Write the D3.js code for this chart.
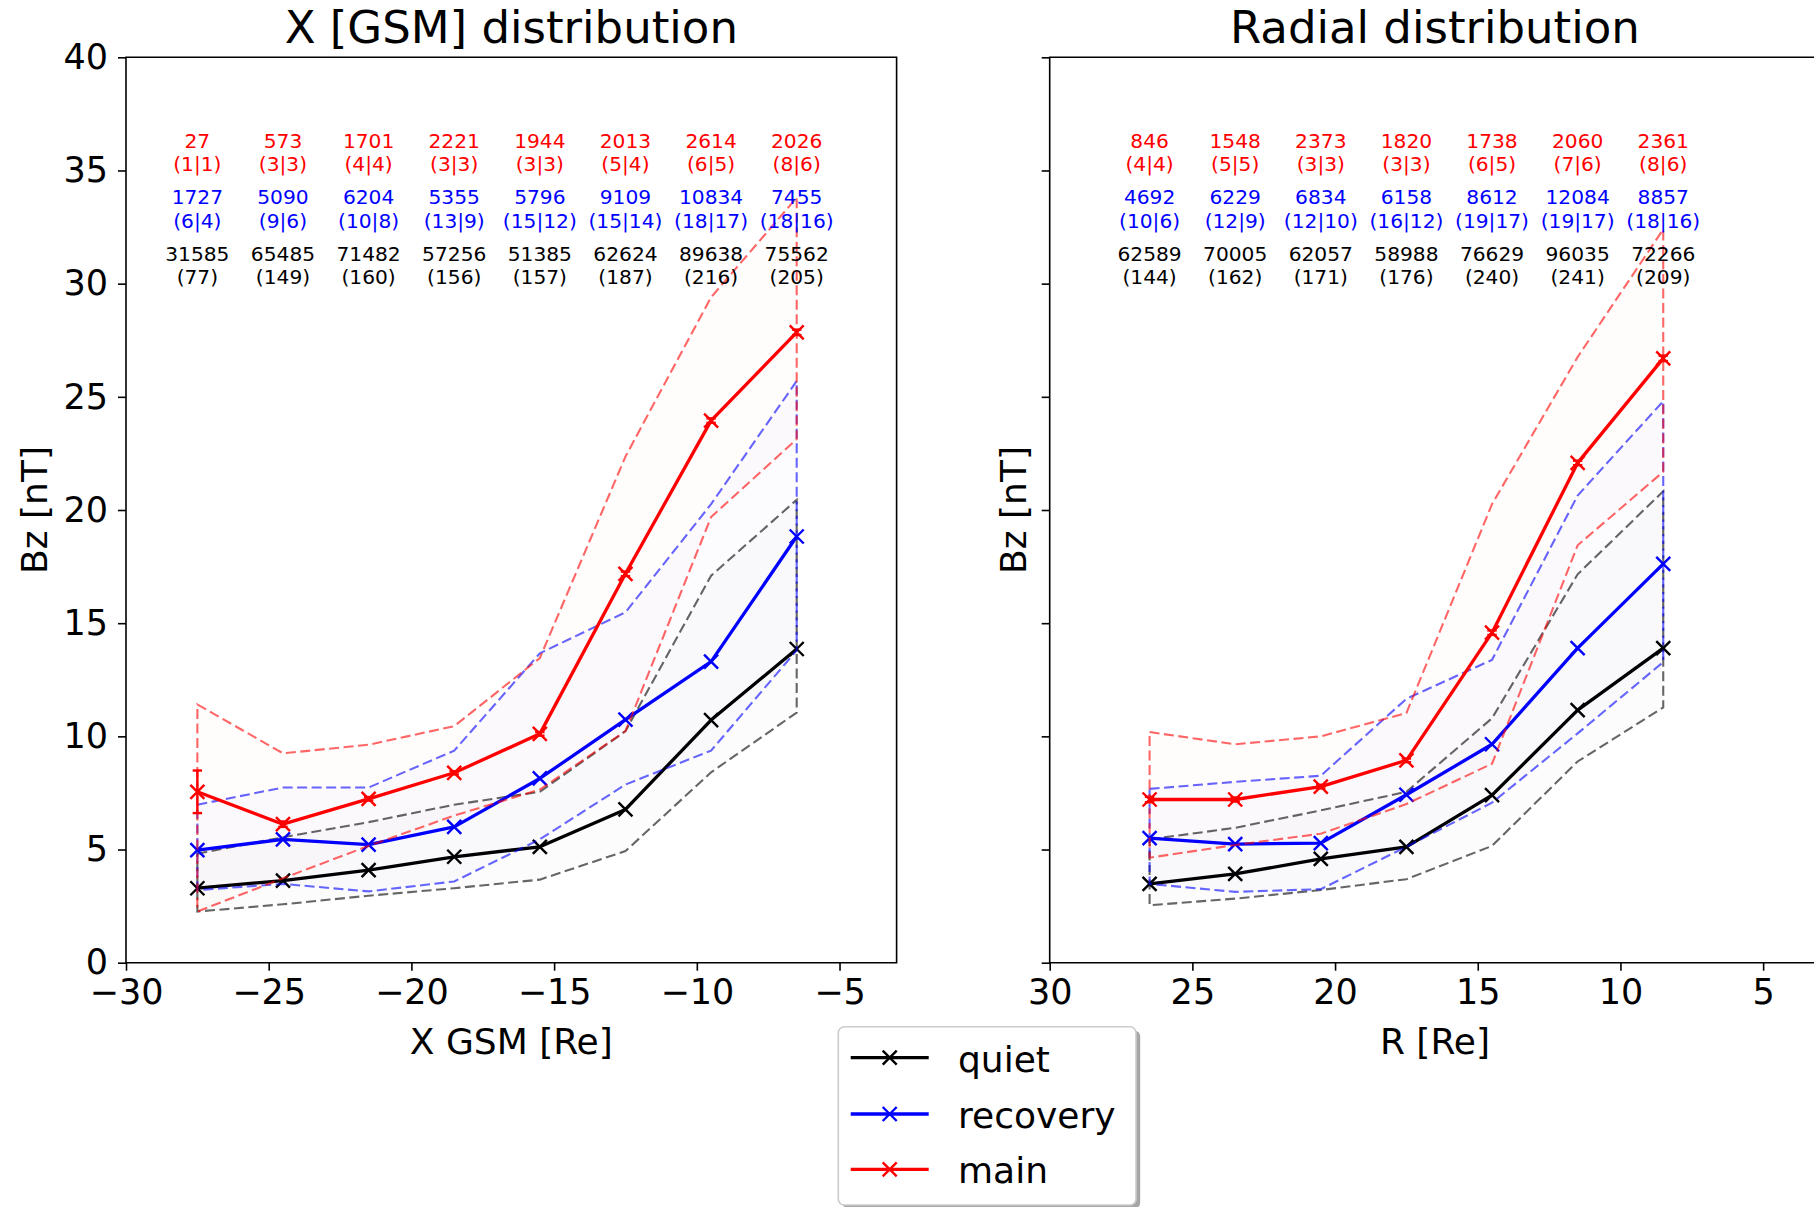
<!DOCTYPE html>
<html>
<head>
<meta charset="utf-8">
<script src="https://cdn.jsdelivr.net/npm/d3@7"></script>
<style>
  html, body { margin: 0; padding: 0; background: #fff; }
  svg { display: block; font-family: "DejaVu Sans", sans-serif; }
</style>
</head>
<body>
<svg id="chart" width="1814" height="1207"></svg>
<script>
// ---- bin centres ----
const xBins = [-27.5, -24.5, -21.5, -18.5, -15.5, -12.5, -9.5, -6.5];
const rBins = [26.5, 23.5, 20.5, 17.5, 14.5, 11.5, 8.5];

// ---- X [GSM] distribution: median Bz and lower/upper quartile band ----
const xQuietMed = [3.29, 3.63, 4.09, 4.68, 5.12, 6.77, 10.72, 13.86];
const xQuietLo  = [2.26, 2.58, 2.96, 3.29, 3.67, 4.93, 8.41, 11.05];
const xQuietHi  = [4.82, 5.54, 6.21, 6.98, 7.55, 10.23, 17.10, 20.45];
const xRecMed   = [4.97, 5.45, 5.22, 6.00, 8.14, 10.74, 13.30, 18.83];
const xRecLo    = [3.21, 3.48, 3.15, 3.59, 5.45, 7.87, 9.37, 13.80];
const xRecHi    = [6.98, 7.74, 7.74, 9.37, 13.67, 15.48, 20.26, 25.70];
const xMainMed  = [7.55, 6.12, 7.24, 8.39, 10.11, 17.18, 23.95, 27.85];
const xMainLo   = [2.26, 3.73, 5.16, 6.50, 7.65, 10.23, 19.69, 23.13];
const xMainHi   = [11.41, 9.25, 9.63, 10.45, 13.46, 22.36, 29.40, 33.80];
const xMainErr  = [0.94, 0.12, 0.08, 0.07, 0.08, 0.10, 0.10, 0.12];

// ---- Radial distribution ----
const rQuietMed = [3.48, 3.92, 4.59, 5.12, 7.40, 11.16, 13.90];
const rQuietLo  = [2.54, 2.83, 3.21, 3.69, 5.16, 8.89, 11.28];
const rQuietHi  = [5.45, 5.96, 6.73, 7.55, 10.80, 17.16, 20.83];
const rRecMed   = [5.50, 5.24, 5.28, 7.42, 9.65, 13.90, 17.62];
const rRecLo    = [3.48, 3.13, 3.25, 5.12, 7.07, 10.13, 13.28];
const rRecHi    = [7.68, 7.99, 8.26, 11.66, 13.38, 20.64, 24.81];
const rMainMed  = [7.21, 7.21, 7.78, 8.94, 14.58, 22.08, 26.70];
const rMainLo   = [4.64, 5.20, 5.70, 7.01, 8.79, 18.44, 21.69];
const rMainHi   = [10.19, 9.65, 10.00, 11.03, 20.26, 26.76, 32.40];
const rMainErr  = [0.12, 0.09, 0.08, 0.08, 0.10, 0.10, 0.12];

// ---- sample counts per bin: points (events|storms) ----
const xMainN   = [27, 573, 1701, 2221, 1944, 2013, 2614, 2026];
const xMainEv  = ["1|1", "3|3", "4|4", "3|3", "3|3", "5|4", "6|5", "8|6"];
const xRecN    = [1727, 5090, 6204, 5355, 5796, 9109, 10834, 7455];
const xRecEv   = ["6|4", "9|6", "10|8", "13|9", "15|12", "15|14", "18|17", "18|16"];
const xQuietN  = [31585, 65485, 71482, 57256, 51385, 62624, 89638, 75562];
const xQuietEv = ["77", "149", "160", "156", "157", "187", "216", "205"];

const rMainN   = [846, 1548, 2373, 1820, 1738, 2060, 2361];
const rMainEv  = ["4|4", "5|5", "3|3", "3|3", "6|5", "7|6", "8|6"];
const rRecN    = [4692, 6229, 6834, 6158, 8612, 12084, 8857];
const rRecEv   = ["10|6", "12|9", "12|10", "16|12", "19|17", "19|17", "18|16"];
const rQuietN  = [62589, 70005, 62057, 58988, 76629, 96035, 72266];
const rQuietEv = ["144", "162", "171", "176", "240", "241", "209"];

// ---- axis ticks and labels ----
const yTicks  = [0, 5, 10, 15, 20, 25, 30, 35, 40];
const xTicksL = [-30, -25, -20, -15, -10, -5];
const xTicksR = [30, 25, 20, 15, 10, 5];
const seriesNames = ["quiet", "recovery", "main"];
const seriesColors = ["#000000", "#0000ff", "#ff0000"];

const svg = d3.select("#chart");

const y = d3.scaleLinear().domain([0, 40]).range([962.7, 57.3]);

function drawPanel(opt) {
  const x = opt.x;
  const g = svg.append("g");
  const [x0, x1] = x.range();

  // series: quiet, recovery, main
  opt.series.forEach((s, i) => {
    const col = seriesColors[i];
    const pts = opt.bins.map((b, k) => ({ b, med: s.med[k], lo: s.lo[k], hi: s.hi[k] }));

    // band outline: upper edge left→right, down the right end, lower edge back, up the left end
    const poly = pts.map(p => [x(p.b), y(p.hi)])
      .concat(pts.slice().reverse().map(p => [x(p.b), y(p.lo)]));
    g.append("path")
      .attr("d", "M" + poly.map(p => p.join(",")).join("L") + "Z")
      .attr("fill", col)
      .attr("fill-opacity", 0.013)
      .attr("stroke", col)
      .attr("stroke-opacity", 0.6)
      .attr("stroke-width", 2.1)
      .attr("stroke-dasharray", "10,4.5");

    // error bars
    if (s.err) {
      pts.forEach((p, k) => {
        const e = s.err[k];
        const cx = x(p.b);
        const eg = g.append("g").attr("stroke", col).attr("stroke-width", 2.4);
        eg.append("line").attr("x1", cx).attr("x2", cx)
          .attr("y1", y(p.med - e)).attr("y2", y(p.med + e));
        [p.med - e, p.med + e].forEach(v => {
          eg.append("line").attr("x1", cx - 4.7).attr("x2", cx + 4.7)
            .attr("y1", y(v)).attr("y2", y(v));
        });
      });
    }

    // median line
    g.append("path")
      .datum(pts)
      .attr("d", d3.line().x(p => x(p.b)).y(p => y(p.med)))
      .attr("fill", "none")
      .attr("stroke", col)
      .attr("stroke-width", 3.3)
      .attr("stroke-linejoin", "round");

    // x markers
    g.selectAll(null).data(pts).enter().append("path")
      .attr("transform", p => `translate(${x(p.b)},${y(p.med)})`)
      .attr("d", "M-7,-7L7,7M-7,7L7,-7")
      .attr("stroke", col)
      .attr("stroke-width", 2.4)
      .attr("fill", "none");
  });

  // sample-count annotations
  const annY = [31, 33.5, 36];
  opt.series.forEach((s, i) => {
    const col = seriesColors[i];
    opt.bins.forEach((b, k) => {
      const t = g.append("text")
        .attr("x", x(b)).attr("y", y(annY[i]))
        .attr("text-anchor", "middle")
        .attr("font-size", 20.2)
        .attr("fill", col);
      t.append("tspan").attr("x", x(b)).text(s.n[k]);
      t.append("tspan").attr("x", x(b)).attr("dy", 23.3).text("(" + s.ev[k] + ")");
    });
  });

  // frame
  g.append("path")
    .attr("d", `M${x0},${y(0)}V${y(40)}H${x1}V${y(0)}Z`)
    .attr("fill", "none")
    .attr("stroke", "#000")
    .attr("stroke-width", 1.6);

  // axes
  const xa = g.append("g").attr("transform", `translate(0,${y(0)})`)
    .call(d3.axisBottom(x).tickValues(opt.xTicks).tickSize(8).tickSizeOuter(0).tickPadding(8));
  const ya = g.append("g").attr("transform", `translate(${x0},0)`)
    .call(d3.axisLeft(y).tickValues(yTicks).tickSize(8).tickSizeOuter(0).tickPadding(10)
      .tickFormat(opt.yLabels ? d3.format("d") : () => ""));
  [xa, ya].forEach(a => {
    a.select(".domain").remove();
    a.selectAll(".tick line").attr("stroke", "#000").attr("stroke-width", 1.6);
    a.selectAll(".tick text").attr("font-size", 35).attr("fill", "#000")
      .attr("font-family", "DejaVu Sans, sans-serif");
  });

  // title and labels
  const cx = (x0 + x1) / 2;
  g.append("text").attr("x", cx).attr("y", 43.3)
    .attr("text-anchor", "middle").attr("font-size", 45).text(opt.title);
  g.append("text").attr("x", cx).attr("y", 1054)
    .attr("text-anchor", "middle").attr("font-size", 36).text(opt.xLabel);
  g.append("text")
    .attr("transform", `translate(${opt.yLabelX},${y(20)}) rotate(-90)`)
    .attr("text-anchor", "middle").attr("font-size", 36).text("Bz [nT]");
}

drawPanel({
  x: d3.scaleLinear().domain([-30, -3]).range([126, 896.6]),
  bins: xBins,
  xTicks: xTicksL,
  yLabels: true,
  yLabelX: 47,
  title: "X [GSM] distribution",
  xLabel: "X GSM [Re]",
  series: [
    { med: xQuietMed, lo: xQuietLo, hi: xQuietHi, n: xQuietN, ev: xQuietEv },
    { med: xRecMed, lo: xRecLo, hi: xRecHi, n: xRecN, ev: xRecEv },
    { med: xMainMed, lo: xMainLo, hi: xMainHi, err: xMainErr, n: xMainN, ev: xMainEv }
  ]
});

drawPanel({
  x: d3.scaleLinear().domain([30, 3]).range([1049.7, 1820.2]),
  bins: rBins,
  xTicks: xTicksR,
  yLabels: false,
  yLabelX: 1026,
  title: "Radial distribution",
  xLabel: "R [Re]",
  series: [
    { med: rQuietMed, lo: rQuietLo, hi: rQuietHi, n: rQuietN, ev: rQuietEv },
    { med: rRecMed, lo: rRecLo, hi: rRecHi, n: rRecN, ev: rRecEv },
    { med: rMainMed, lo: rMainLo, hi: rMainHi, err: rMainErr, n: rMainN, ev: rMainEv }
  ]
});

// ---- legend ----
const lg = svg.append("g");
lg.append("rect").attr("x", 842.5).attr("y", 1030.5).attr("width", 297.7).attr("height", 178.3)
  .attr("rx", 6).attr("fill", "#000").attr("fill-opacity", 0.35);
lg.append("rect").attr("x", 838.3).attr("y", 1026.7).attr("width", 297.7).attr("height", 178.3)
  .attr("rx", 6).attr("fill", "#fff").attr("stroke", "#cccccc").attr("stroke-width", 1.6);
const rowY = [1057.7, 1114, 1169.3];
seriesNames.forEach((name, i) => {
  const col = seriesColors[i];
  lg.append("line").attr("x1", 850.7).attr("x2", 928.7).attr("y1", rowY[i]).attr("y2", rowY[i])
    .attr("stroke", col).attr("stroke-width", 3.3);
  lg.append("path").attr("transform", `translate(889.7,${rowY[i]})`)
    .attr("d", "M-7,-7L7,7M-7,7L7,-7").attr("stroke", col).attr("stroke-width", 2.4);
  lg.append("text").attr("x", 958).attr("y", rowY[i] + 14)
    .attr("font-size", 36).attr("fill", "#000").text(name);
});
</script>
</body>
</html>
